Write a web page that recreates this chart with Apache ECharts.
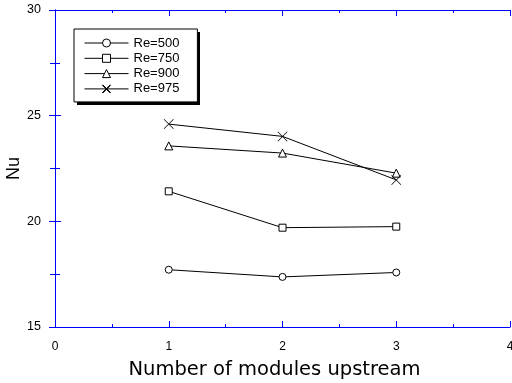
<!DOCTYPE html>
<html>
<head>
<meta charset="utf-8">
<script src="https://cdn.jsdelivr.net/npm/echarts@6/dist/echarts.min.js"></script>
<style>
  html, body { margin: 0; padding: 0; background: #fff; }
  #main { width: 512px; height: 383px; }
</style>
</head>
<body>
<div id="main"></div>
<script>
// 数据
let modules = [1, 2, 3];
let re500 = [17.71, 17.37, 17.58];
let re750 = [21.42, 19.70, 19.75];
let re900 = [23.57, 23.23, 22.28];
let re975 = [24.60, 24.02, 21.96];
let x_ticks = [0, 1, 2, 3, 4];
let y_ticks = [15, 20, 25, 30];

let axis_blue = "#0000ff";
let font = "Liberation Sans, Arial, sans-serif";
let cross = "path://M0,1L1,0L10,9L19,0L20,1L11,10L20,19L19,20L10,11L1,20L0,19L9,10Z";

function pairs(ys) {
	return modules.map(function (x, i) {
		return [x, ys[i]];
	});
}

function makeLine(name, ys, symbol, size, fill, bw) {
	return {
		name: name,
		type: "line",
		data: pairs(ys),
		symbol: symbol,
		symbolSize: size,
		symbolKeepAspect: true,
		showAllSymbol: true,
		animation: false,
		lineStyle: { color: "#000", width: 1 },
		itemStyle: { color: fill, borderColor: "#000", borderWidth: bw },
		emphasis: { disabled: true },
	};
}

let chart = echarts.init(document.getElementById("main"));
let option = {
	backgroundColor: "#fff",
	animation: false,
	grid: {
		left: 55,
		right: 2,
		top: 10,
		bottom: 56,
		outerBoundsMode: "none",
		containLabel: false,
	},
	// 图例阴影
	graphic: [
		{
			type: "rect",
			left: 77,
			top: 32,
			shape: { width: 123, height: 73 },
			style: { fill: "#000" },
			z: 0,
		},
	],
	legend: {
		orient: "vertical",
		left: 74,
		top: 29,
		width: 95,
		padding: [7, 18, 6, 10],
		itemWidth: 44,
		itemHeight: 10,
		itemGap: 1.3,
		backgroundColor: "#fff",
		borderColor: "#000",
		borderWidth: 1,
		lineStyle: { width: 1 },
		itemStyle: { borderWidth: 1 },
		textStyle: { fontFamily: font, fontSize: 13, color: "#000", lineHeight: 14 },
		data: ["Re=500", "Re=750", "Re=900", "Re=975"],
		z: 5,
	},
	xAxis: [
		{
			type: "value",
			min: x_ticks[0],
			max: x_ticks[x_ticks.length - 1],
			interval: 1,
			position: "bottom",
			name: "Number of modules upstream",
			nameLocation: "middle",
			nameGap: 33,
			nameMoveOverlap: false,
			nameTextStyle: { fontFamily: "DejaVu Sans", fontSize: 19.5, color: "#000", padding: [0, 16, 0, 0] },
			axisLine: { lineStyle: { color: axis_blue, width: 1 } },
			axisTick: { inside: true, length: 6, lineStyle: { color: axis_blue } },
			minorTick: { show: true, splitNumber: 2, length: 3, lineStyle: { color: axis_blue } },
			axisLabel: { fontFamily: font, fontSize: 12, color: "#000", margin: 14 },
			splitLine: { show: false },
		},
		{
			type: "value",
			min: x_ticks[0],
			max: x_ticks[x_ticks.length - 1],
			interval: 1,
			position: "top",
			axisLine: { lineStyle: { color: axis_blue, width: 1 } },
			axisTick: { inside: true, length: 6, lineStyle: { color: axis_blue } },
			minorTick: { show: true, splitNumber: 2, length: 3, lineStyle: { color: axis_blue } },
			axisLabel: { show: false },
			splitLine: { show: false },
		},
	],
	yAxis: [
		{
			type: "value",
			min: y_ticks[0],
			max: y_ticks[y_ticks.length - 1],
			interval: 5,
			position: "left",
			name: "Nu",
			nameLocation: "middle",
			nameGap: 32,
			nameMoveOverlap: false,
			nameTextStyle: { fontFamily: font, fontSize: 18, color: "#000" },
			axisLine: { lineStyle: { color: axis_blue, width: 1 } },
			axisTick: { inside: true, length: 6, lineStyle: { color: axis_blue } },
			minorTick: { show: true, splitNumber: 2, length: 5, lineStyle: { color: axis_blue } },
			axisLabel: { fontFamily: font, fontSize: 12.5, color: "#000", margin: 14 },
			splitLine: { show: false },
		},
		{
			type: "value",
			min: y_ticks[0],
			max: y_ticks[y_ticks.length - 1],
			interval: 5,
			position: "right",
			axisLine: { lineStyle: { color: axis_blue, width: 1 } },
			axisTick: { inside: true, length: 6, lineStyle: { color: axis_blue } },
			minorTick: { show: true, splitNumber: 2, length: 5, lineStyle: { color: axis_blue } },
			axisLabel: { show: false },
			splitLine: { show: false },
		},
	],
	series: [
		makeLine("Re=500", re500, "circle", 7, "#fff", 1),
		makeLine("Re=750", re750, "rect", 7, "#fff", 1),
		makeLine("Re=900", re900, "triangle", 8, "#fff", 1),
		makeLine("Re=975", re975, cross, 10, "#000", 0),
	],
};
chart.setOption(option);
</script>
</body>
</html>
